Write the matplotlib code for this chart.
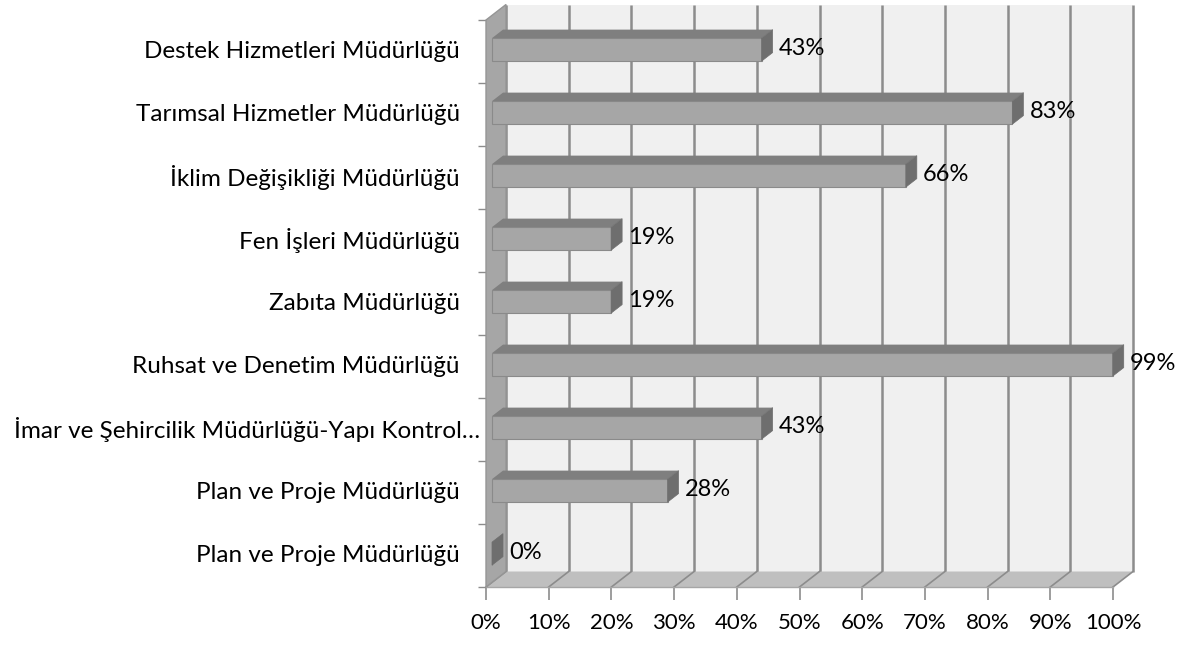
import matplotlib.pyplot as plt
import matplotlib.transforms as mtransforms
from matplotlib.patches import Polygon

# data, top to bottom as shown
categories = [
    "Destek Hizmetleri Müdürlüğü",
    "Tarımsal Hizmetler Müdürlüğü",
    "İklim Değişikliği Müdürlüğü",
    "Fen İşleri Müdürlüğü",
    "Zabıta Müdürlüğü",
    "Ruhsat ve Denetim Müdürlüğü",
    "İmar ve Şehircilik Müdürlüğü-Yapı Kontrol…",
    "Plan ve Proje Müdürlüğü",
    "Plan ve Proje Müdürlüğü",
]
values = [43, 83, 66, 19, 19, 99, 43, 28, 0]
xticks = list(range(0, 101, 10))

plt.rcParams['font.family'] = ['Lato', 'DejaVu Sans']

W, H = 1182, 645
fig = plt.figure(figsize=(W / 100, H / 100), dpi=100)
# axes = front plane of the 3d box (pixels 486..1113 x, 20..587 y)
ax = fig.add_axes([486 / W, (H - 587) / H, 627 / W, 567 / H])
n = len(categories)
ax.set_xlim(0, 100)
ax.set_ylim(n - 0.5, -0.5)

# depth offset of the full box, in data units
DX = 20 / 627 * 100
DY = 15.5 / 63


def P(x, y, d):
    return (x + d * DX, y - d * DY)


def poly(pts, fc, ec='none', lw=0, z=1):
    ax.add_patch(Polygon(pts, closed=True, facecolor=fc, edgecolor=ec,
                         linewidth=lw, zorder=z, clip_on=False))


top, bot = -0.5, n - 0.5
grid_c = '#8c8c8c'

# back wall
poly([P(0, top, 1), P(100, top, 1), P(100, bot, 1), P(0, bot, 1)], '#f0f0f0', z=1)
for t in xticks:
    ax.plot(*zip(P(t, top, 1), P(t, bot, 1)), color=grid_c, lw=1.8, zorder=2,
            clip_on=False, solid_capstyle='butt')

# floor
poly([P(0, bot, 0), P(100, bot, 0), P(100, bot, 1), P(0, bot, 1)], '#bfbfbf', z=3)
for t in xticks:
    ax.plot(*zip(P(t, bot, 0), P(t, bot, 1)), color=grid_c, lw=1.2, zorder=4,
            clip_on=False)
ax.plot(*zip(P(0, bot, 0), P(100, bot, 0)), color='#a6a6a6', lw=1, zorder=4, clip_on=False)

# left side wall
poly([P(0, top, 0), P(0, top, 1), P(0, bot, 1), P(0, bot, 0)], '#a6a6a6',
     ec='#959595', lw=1, z=5)

# bars
h = 23 / 63
d0, d1 = 0.3, 0.85
for i, v in enumerate(values):
    yt, yb = i - h / 2 + d0 * DY * 0.6, i + h / 2 + d0 * DY * 0.6
    poly([P(0, yt, d0), P(v, yt, d0), P(v, yb, d0), P(0, yb, d0)], '#a6a6a6',
         ec='#8a8a8a', lw=0.8, z=10)
    poly([P(0, yt, d0), P(v, yt, d0), P(v, yt, d1), P(0, yt, d1)], '#7f7f7f', z=10)
    poly([P(v, yt, d0), P(v, yb, d0), P(v, yb, d1), P(v, yt, d1)], '#6e6e6e',
         ec='#6e6e6e', lw=0.5, z=11)
    xe, _ = P(v, yt, d1)
    ax.text(xe + 1.0, i - 0.05, f"{v}%", fontsize=17, va='center', ha='left',
            color='black', zorder=12, clip_on=False)

# axes ticks and labels
for s in ax.spines.values():
    s.set_visible(False)
ax.set_xticks(xticks, [f"{t}%" for t in xticks], fontsize=16)
ax.tick_params(axis='x', length=9, width=1.2, color=grid_c, pad=10)
ax.set_yticks([k - 0.5 for k in range(n + 1)])
ax.set_yticklabels([])
ax.tick_params(axis='y', length=6, width=1, color=grid_c)

# category labels (the truncated long one sits a bit further right, as in Excel)
for i, c in enumerate(categories):
    shift = -6 if c.endswith('…') else -26
    tr = ax.get_yaxis_transform() + mtransforms.ScaledTranslation(
        shift / 100, 0, fig.dpi_scale_trans)
    ax.text(0, i, c, transform=tr, fontsize=17.5, ha='right', va='center',
            clip_on=False)

fig.savefig('out.png', dpi=100)
